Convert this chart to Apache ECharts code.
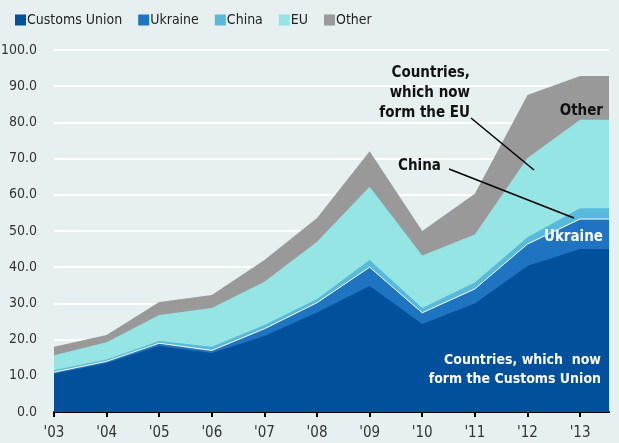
<!DOCTYPE html>
<html>
<head>
<meta charset="utf-8">
<script src="https://cdn.jsdelivr.net/npm/echarts@6/dist/echarts.min.js"></script>
<style>
html,body{margin:0;padding:0;background:#e7f0f1;}
#chart{width:619px;height:443px;}
</style>
</head>
<body>
<div id="chart"></div>
<script>
// years on the x axis, last point is where the area runs out at the right edge
var years = [2003, 2004, 2005, 2006, 2007, 2008, 2009, 2010, 2011, 2012, 2013];
var xEnd = 2013.55;

var customsUnion = [10.5, 13.5, 18.2, 16.3, 21.0, 27.5, 34.8, 24.3, 30.0, 40.3, 45.0];
var ukraine      = [0.5, 0.5, 0.8, 0.7, 2.0, 2.7, 5.2, 3.1, 4.0, 6.1, 8.3];
var china        = [0.5, 0.5, 0.6, 1.0, 1.0, 1.0, 2.0, 1.3, 1.8, 1.9, 3.0];
var eu           = [4.2, 4.8, 7.2, 10.7, 12.0, 15.8, 20.2, 14.5, 13.2, 21.9, 24.4];
var other        = [2.3, 2.0, 3.6, 3.6, 6.0, 6.6, 9.8, 6.8, 11.3, 17.4, 12.1];

var names  = ['Customs Union', 'Ukraine', 'China', 'EU', 'Other'];
var colors = ['#00509b', '#1f74c2', '#57b9dc', '#95e5e5', '#999999'];

var FONT = '"Liberation Sans Narrow", "DejaVu Sans Condensed", "Liberation Sans", sans-serif';

// stack by hand: value axis on x does not stack
var allData = [customsUnion, ukraine, china, eu, other];
var running = [0, 0, 0, 0, 0, 0, 0, 0, 0, 0, 0];

function toPoints(vals){
	var pts = [];
	for(var i = 0; i < years.length; i++){
		running[i] += vals[i];
		pts.push([years[i], running[i]]);
	}
	// flat run to the right edge
	pts.push([xEnd, running[years.length-1]]);
	return pts;
}

var series = [];
for(var s = 0; s < names.length; s++){
	series.push({
		name: names[s],
		type: 'line',
		symbol: 'none',
		data: toPoints(allData[s]),
		lineStyle: {width: s == 1 ? 1 : 0, color: '#ffffff'},
		itemStyle: {color: colors[s]},
		areaStyle: {color: colors[s], opacity: 1, origin: 'start'},
		z: 10 - s
	});
}

var myChart = echarts.init(document.getElementById('chart'), null, {renderer: 'canvas'});
myChart.setOption({
	backgroundColor: '#e7f0f1',
	animation: false,
	textStyle: {fontFamily: FONT},
	legend: {
		left: 10,
		top: 8,
		itemWidth: 11,
		itemHeight: 11,
		itemGap: 16,
		icon: 'rect',
		data: names,
		textStyle: {fontFamily: FONT, fontSize: 14, color: '#222', padding: [0, 0, 0, -4]}
	},
	grid: {left: 54, right: 10, top: 50, bottom: 31, containLabel: false, outerBoundsMode: 'none'},
	xAxis: {
		type: 'value',
		min: 2003,
		max: xEnd,
		interval: 1,
		splitLine: {show: false},
		axisLine: {show: true, onZero: false, lineStyle: {color: '#000', width: 2}},
		axisTick: {show: true, length: 5, lineStyle: {color: '#000', width: 2}},
		axisLabel: {
			color: '#333',
			fontFamily: FONT,
			fontSize: 15,
			margin: 14,
			showMaxLabel: false,
			formatter: function(v){
				if(Math.abs(v - Math.round(v)) > 0.01) return '';
				return "'" + String(Math.round(v)).slice(2);
			}
		}
	},
	yAxis: {
		type: 'value',
		min: 0,
		max: 100,
		interval: 10,
		axisLine: {show: false},
		axisTick: {show: false},
		splitLine: {show: true, lineStyle: {color: '#ffffff', width: 2}},
		axisLabel: {
			color: '#333',
			fontFamily: FONT,
			fontSize: 14,
			margin: 17,
			formatter: function(v){ return v.toFixed(1); }
		}
	},
	series: series,
	graphic: [
		{type: 'line', shape: {x1: 471, y1: 118, x2: 534, y2: 170}, style: {stroke: '#000', lineWidth: 1.5}, z: 100},
		{type: 'line', shape: {x1: 449, y1: 169, x2: 574, y2: 218}, style: {stroke: '#000', lineWidth: 1.5}, z: 100},
		{type: 'text', x: 470, y: 63, z: 100,
			style: {text: 'Countries,\nwhich now\nform the EU', fill: '#111', font: 'bold 15px ' + FONT, align: 'right', lineHeight: 20}},
		{type: 'text', left: 398, top: 159, z: 100,
			style: {text: 'China', fill: '#111', font: 'bold 15px ' + FONT}},
		{type: 'text', right: 16, top: 104, z: 100,
			style: {text: 'Other', fill: '#111', font: 'bold 15px ' + FONT}},
		{type: 'text', right: 16, top: 230, z: 100,
			style: {text: 'Ukraine', fill: '#fff', font: 'bold 15px ' + FONT}},
		{type: 'text', x: 601, y: 351, z: 100,
			style: {text: 'Countries, which  now\nform the Customs Union', fill: '#fff', font: 'bold 14px ' + FONT, align: 'right', lineHeight: 19}}
	]
});
</script>
</body>
</html>
